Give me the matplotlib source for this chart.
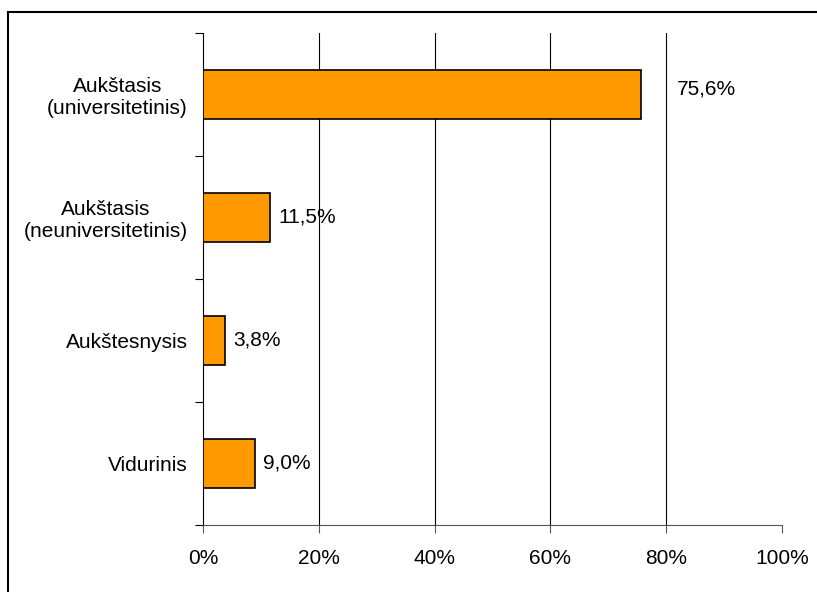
import matplotlib
matplotlib.use("Agg")
import matplotlib.pyplot as plt
from matplotlib.lines import Line2D
from matplotlib.ticker import FixedLocator

plt.rcParams['font.family'] = ['Liberation Sans', 'DejaVu Sans']

categories = ["Aukštasis\n(universitetinis)", "Aukštasis\n(neuniversitetinis)",
              "Aukštesnysis", "Vidurinis"]
values = [75.6, 11.5, 3.8, 9.0]
value_labels = ["75,6%", "11,5%", "3,8%", "9,0%"]
xticks = [0, 20, 40, 60, 80, 100]
xtick_labels = ["0%", "20%", "40%", "60%", "80%", "100%"]

fig = plt.figure(figsize=(8.17, 5.92), dpi=100)
ax = fig.add_axes([0.2485, 0.1132, 0.957 - 0.2485, 0.9448 - 0.1132])

ypos = list(range(len(categories)))
ax.barh(ypos, values, height=0.4, color="#FF9900", edgecolor="black", linewidth=1.2, zorder=3)

ax.set_xlim(0, 100)
ax.set_ylim(len(categories) - 0.5, -0.5)

for x in xticks[1:-1]:
    ax.axvline(x, color="black", linewidth=0.8, zorder=1)

ax.set_xticks(xticks)
ax.set_xticklabels(xtick_labels, fontsize=15)
ax.tick_params(axis='x', length=6, width=0.8, direction='out', pad=11, color='#555555')

ax.set_yticks(ypos)
ax.set_yticklabels(categories, fontsize=15)
for t in ax.get_yticklabels():
    t.set_horizontalalignment('right')
    t.set_multialignment('center')
ax.tick_params(axis='y', which='major', length=0, pad=11)
ax.yaxis.set_minor_locator(FixedLocator([i - 0.5 for i in range(len(categories) + 1)]))
ax.tick_params(axis='y', which='minor', length=6, width=0.8, direction='out')

for s in ['top', 'right']:
    ax.spines[s].set_visible(False)
ax.spines['left'].set_linewidth(0.8)
ax.spines['bottom'].set_linewidth(0.8)
ax.spines['bottom'].set_color('#555555')

for i, (v, lab) in enumerate(zip(values, value_labels)):
    if i == 0:
        ax.annotate(lab, xy=(v, i), xytext=(26, 4), textcoords='offset points',
                    ha='left', va='center', fontsize=15)
    else:
        ax.annotate(lab, xy=(v, i), xytext=(6, 0), textcoords='offset points',
                    ha='left', va='center', fontsize=15)

# figure border (top and left visible)
fig.add_artist(Line2D([7.5 / 817, 1.0], [1 - 11.5 / 592, 1 - 11.5 / 592],
                      transform=fig.transFigure, color='black', linewidth=1.5))
fig.add_artist(Line2D([7.5 / 817, 7.5 / 817], [0.0, 1 - 11.5 / 592],
                      transform=fig.transFigure, color='black', linewidth=1.5))

fig.savefig("out.png", dpi=100)
